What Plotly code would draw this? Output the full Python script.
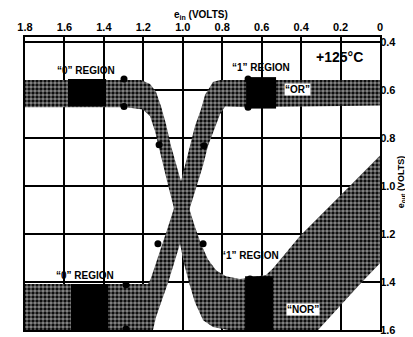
import plotly.graph_objects as go

# ---- data (e_in, e_out in volts) ----
x_ticks = [1.8, 1.6, 1.4, 1.2, 1.0, 0.8, 0.6, 0.4, 0.2, 0.0]
x_tick_labels = ["1.8", "1.6", "1.4", "1.2", "1.0", "0.8", "0.6", "0.4", "0.2", "0"]
y_ticks = [0.4, 0.6, 0.8, 1.0, 1.2, 1.4, 1.6]
y_tick_labels = ["0.4", "0.6", "0.8", "1.0", "1.2", "1.4", "1.6"]

# "OR" output band boundary (closed outline)
or_ein = [1.80, 1.25, 1.176, 1.161, 1.136, 1.100, 1.070, 1.039, 1.014, 0.989, 0.963, 0.938, 0.908,
          0.887, 0.847, 0.811, 0.0, 0.0, 0.669, 0.786, 0.811, 0.842, 0.872, 0.897, 0.928, 0.958,
          0.989, 1.014, 1.044, 1.075, 1.110, 1.136, 1.151, 1.80]
or_eout = [1.408, 1.408, 1.408, 1.384, 1.322, 1.241, 1.159, 1.078, 0.996, 0.914, 0.833, 0.751, 0.682,
           0.620, 0.567, 0.559, 0.559, 0.665, 0.673, 0.669, 0.702, 0.771, 0.833, 0.914, 0.996, 1.078,
           1.159, 1.241, 1.322, 1.404, 1.486, 1.547, 1.600, 1.600]

# "NOR" output band boundary (closed outline)
nor_ein = [1.80, 1.212, 1.166, 1.136, 1.110, 1.085, 1.060, 1.034, 1.004, 0.973, 0.943, 0.908, 0.872,
           0.831, 0.781, 0.710, 0.578, 0.542, 0.405, 0.162, 0.0, 0.0, 0.096, 0.314, 0.771, 0.847,
           0.897, 0.938, 0.968, 0.994, 1.014, 1.029, 1.049, 1.075, 1.100, 1.126, 1.141, 1.166,
           1.202, 1.288, 1.80]
nor_eout = [0.559, 0.559, 0.576, 0.608, 0.669, 0.743, 0.833, 0.914, 0.996, 1.078, 1.159, 1.241, 1.306,
            1.351, 1.376, 1.388, 1.371, 1.343, 1.208, 1.008, 0.873, 1.322, 1.404, 1.600, 1.600, 1.588,
            1.559, 1.486, 1.404, 1.322, 1.241, 1.159, 1.078, 0.996, 0.914, 0.833, 0.771, 0.710,
            0.682, 0.673, 0.673]

# solid "region" blocks: [e_in_low, e_in_high, e_out_low, e_out_high]
blocks = [
    [1.389, 1.582, 0.555, 0.669],
    [0.527, 0.679, 0.547, 0.678],
    [1.379, 1.567, 1.408, 1.600],
    [0.542, 0.684, 1.376, 1.600],
]

# limit dots
dot_ein = [1.298, 1.298, 1.288, 1.288, 1.120, 0.892, 1.126, 0.897, 0.669, 0.669, 0.659, 0.659]
dot_eout = [0.555, 0.669, 1.412, 1.596, 0.829, 0.833, 1.241, 1.241, 0.555, 0.673, 1.388, 1.580]

FONT = "Liberation Sans, Arial, sans-serif"

fig = go.Figure()

hatch = dict(shape=".", fgcolor="white", bgcolor="black", size=4, solidity=0.62)
for xs, ys in [(or_ein, or_eout), (nor_ein, nor_eout)]:
    fig.add_trace(go.Scatter(x=xs, y=ys, mode="lines", fill="toself",
                             fillcolor="black", fillpattern=hatch,
                             line=dict(width=0, color="black"), hoverinfo="skip",
                             showlegend=False))

for b in blocks:
    fig.add_trace(go.Scatter(x=[b[0], b[1], b[1], b[0], b[0]],
                             y=[b[2], b[2], b[3], b[3], b[2]],
                             mode="lines", fill="toself", fillcolor="black",
                             line=dict(width=0, color="black"), hoverinfo="skip",
                             showlegend=False))

fig.add_trace(go.Scatter(x=dot_ein, y=dot_eout, mode="markers",
                         marker=dict(size=7, color="black", line=dict(width=0)),
                         hoverinfo="skip", showlegend=False))

def ann(text, x, y, size=10, bg=None):
    d = dict(text=text, x=x, y=y, xref="x", yref="y", showarrow=False,
             xanchor="center", yanchor="middle",
             font=dict(family=FONT, size=size, color="black", weight="bold"))
    if bg:
        d.update(bgcolor=bg, borderpad=0)
    fig.add_annotation(**d)

ann("\u201c0\u201d REGION", 1.491, 0.518)
ann("\u201c1\u201d REGION", 0.603, 0.506)
ann("\u201c0\u201d REGION", 1.496, 1.371)
ann("\u201c1\u201d REGION", 0.659, 1.290)
ann("+125\u00b0C", 0.203, 0.465, size=14)
ann("\u201cOR\u201d", 0.416, 0.600, bg="white")
ann("\u201cNOR\u201d", 0.390, 1.514, bg="white")

fig.add_annotation(text="e<sub>in</sub> (VOLTS)", xref="paper", yref="paper",
                   x=0.496, y=1.075, xanchor="center", yanchor="middle", showarrow=False,
                   font=dict(family=FONT, size=10, color="black", weight="bold"))
fig.add_annotation(text="e<sub>out</sub> (VOLTS)", xref="paper", yref="paper",
                   x=1.06, y=0.505, xanchor="center", yanchor="middle", showarrow=False,
                   textangle=-90,
                   font=dict(family=FONT, size=9, color="black", weight="bold"))

fig.update_layout(
    width=413, height=337,
    margin=dict(l=17, r=41, t=29, b=9),
    paper_bgcolor="white", plot_bgcolor="white",
    font=dict(family=FONT, size=11, color="black", weight="bold"),
    xaxis=dict(range=[1.8, 0.0], side="top", tickvals=x_ticks, ticktext=x_tick_labels,
               showgrid=True, gridcolor="black", gridwidth=1.5, zeroline=False,
               showline=True, mirror=True, linecolor="black", linewidth=2,
               ticks="", ticklabelstandoff=0),
    yaxis=dict(range=[1.6, 0.38], side="right", tickvals=y_ticks, ticktext=y_tick_labels,
               showgrid=True, gridcolor="black", gridwidth=1.5, zeroline=False,
               showline=True, mirror=True, linecolor="black", linewidth=2,
               ticks="", ticklabelstandoff=-4),
)

fig.write_html("out.html")
